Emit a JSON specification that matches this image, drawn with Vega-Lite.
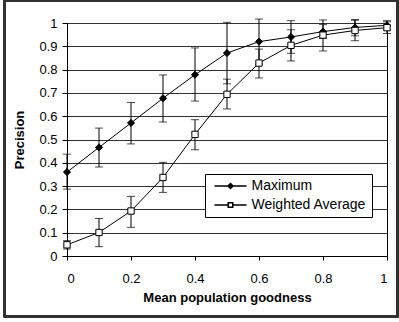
{
  "$schema": "https://vega.github.io/schema/vega-lite/v6.json",
  "width": 320,
  "height": 233,
  "autosize": {"type": "none"},
  "padding": {"left": 67, "top": 23, "right": 12, "bottom": 66},
  "background": "white",
  "config": {
    "font": "Liberation Sans",
    "view": {"stroke": "black", "strokeWidth": 1, "fill": "white"},
    "axis": {
      "labelFont": "Liberation Sans",
      "labelFontSize": 13,
      "labelColor": "black",
      "titleFont": "Liberation Sans",
      "titleFontSize": 13,
      "titleFontWeight": "bold",
      "titleColor": "black",
      "domainColor": "black",
      "tickColor": "black"
    }
  },
  "data": {
    "values": [
      {"series": "Maximum", "x": 0, "y": 0.36, "lo": 0.287, "hi": 0.437},
      {"series": "Maximum", "x": 0.1, "y": 0.466, "lo": 0.382, "hi": 0.549},
      {"series": "Maximum", "x": 0.2, "y": 0.571, "lo": 0.481, "hi": 0.659},
      {"series": "Maximum", "x": 0.3, "y": 0.677, "lo": 0.575, "hi": 0.777},
      {"series": "Maximum", "x": 0.4, "y": 0.778, "lo": 0.665, "hi": 0.893},
      {"series": "Maximum", "x": 0.5, "y": 0.871, "lo": 0.739, "hi": 1.003},
      {"series": "Maximum", "x": 0.6, "y": 0.92, "lo": 0.823, "hi": 1.017},
      {"series": "Maximum", "x": 0.7, "y": 0.94, "lo": 0.87, "hi": 1.01},
      {"series": "Maximum", "x": 0.8, "y": 0.963, "lo": 0.934, "hi": 0.993},
      {"series": "Maximum", "x": 0.9, "y": 0.981, "lo": 0.945, "hi": 1.015},
      {"series": "Maximum", "x": 1, "y": 0.99, "lo": 0.97, "hi": 1.01},
      {"series": "Weighted Average", "x": 0, "y": 0.048, "lo": 0.03, "hi": 0.066},
      {"series": "Weighted Average", "x": 0.1, "y": 0.101, "lo": 0.04, "hi": 0.161},
      {"series": "Weighted Average", "x": 0.2, "y": 0.193, "lo": 0.123, "hi": 0.256},
      {"series": "Weighted Average", "x": 0.3, "y": 0.337, "lo": 0.273, "hi": 0.402},
      {"series": "Weighted Average", "x": 0.4, "y": 0.522, "lo": 0.456, "hi": 0.585},
      {"series": "Weighted Average", "x": 0.5, "y": 0.694, "lo": 0.631, "hi": 0.759},
      {"series": "Weighted Average", "x": 0.6, "y": 0.828, "lo": 0.764, "hi": 0.888},
      {"series": "Weighted Average", "x": 0.7, "y": 0.904, "lo": 0.837, "hi": 0.971},
      {"series": "Weighted Average", "x": 0.8, "y": 0.948, "lo": 0.88, "hi": 1.013},
      {"series": "Weighted Average", "x": 0.9, "y": 0.968, "lo": 0.924, "hi": 1.012},
      {"series": "Weighted Average", "x": 1, "y": 0.98, "lo": 0.955, "hi": 1.005}
    ]
  },
  "resolve": {"scale": {"x": "independent", "y": "independent"}, "axis": {"x": "independent", "y": "independent"}},
  "layer": [
    {
      "mark": {"type": "rect", "fill": null, "stroke": "#333", "strokeWidth": 1.5, "clip": false},
      "encoding": {
        "x": {"datum": -0.195, "type": "quantitative", "scale": {"domain": [0, 1], "nice": false, "zero": false}, "axis": null},
        "x2": {"datum": 1.033},
        "y": {"datum": 1.094, "type": "quantitative", "scale": {"domain": [0, 1], "nice": false, "zero": false}, "axis": null},
        "y2": {"datum": -0.26}
      }
    },
    {
      "encoding": {
        "x": {
          "field": "x", "type": "quantitative",
          "scale": {"domain": [0, 1], "nice": false},
          "axis": {
            "values": [0, 0.2, 0.4, 0.6, 0.8, 1],
            "tickCount": 20,
            "format": ".1~f",
            "grid": false,
            "tickSize": 4,
            "labelPadding": 12,
            "title": "Mean population goodness",
            "titlePadding": 6
          }
        }
      },
      "layer": [
        {
          "mark": {"type": "rule", "color": "black", "strokeWidth": 1},
          "encoding": {
            "y": {
              "field": "lo", "type": "quantitative",
              "scale": {"domain": [0, 1], "nice": false},
              "axis": {
                "values": [0, 0.1, 0.2, 0.3, 0.4, 0.5, 0.6, 0.7, 0.8, 0.9, 1],
                "tickCount": 20,
                "format": ".1~f",
                "grid": true,
                "gridColor": "#333",
                "gridWidth": 1,
                "tickSize": 5,
                "labelPadding": 5,
                "labelOverlap": false,
                "title": "Precision",
                "titlePadding": 12
              }
            },
            "y2": {"field": "hi"}
          }
        },
        {
          "mark": {"type": "tick", "orient": "horizontal", "color": "black", "size": 8, "thickness": 1},
          "encoding": {
            "y": {"field": "lo", "type": "quantitative"}
          }
        },
        {
          "mark": {"type": "tick", "orient": "horizontal", "color": "black", "size": 8, "thickness": 1},
          "encoding": {
            "y": {"field": "hi", "type": "quantitative"}
          }
        },
        {
          "mark": {"type": "line", "color": "black", "strokeWidth": 1},
          "encoding": {
            "y": {"field": "y", "type": "quantitative"},
            "detail": {"field": "series"}
          }
        },
        {
          "transform": [{"filter": "datum.series === 'Maximum'"}],
          "mark": {"type": "point", "shape": "diamond", "filled": true, "fill": "black", "stroke": "black", "strokeWidth": 1, "opacity": 1, "size": 50},
          "encoding": {
            "y": {"field": "y", "type": "quantitative"}
          }
        },
        {
          "transform": [{"filter": "datum.series === 'Weighted Average'"}],
          "mark": {"type": "point", "shape": "square", "filled": true, "fill": "white", "stroke": "black", "strokeWidth": 1, "opacity": 1, "size": 40},
          "encoding": {
            "y": {"field": "y", "type": "quantitative"}
          }
        },
        {
          "mark": {"type": "point", "filled": true, "stroke": "black", "strokeWidth": 1, "opacity": 0, "size": 25},
          "encoding": {
            "y": {"field": "y", "type": "quantitative"},
            "shape": {
              "field": "series", "type": "nominal",
              "scale": {
                "domain": ["Maximum", "Weighted Average"],
                "range": ["M-6.4,0L6.4,0M0,-1L1,0L0,1L-1,0Z", "M-6.4,0L-0.9,0M0.9,0L6.4,0M-0.9,-0.9L0.9,-0.9L0.9,0.9L-0.9,0.9Z"]
              },
              "legend": {
                "title": null,
                "orient": "none",
                "legendX": 138,
                "legendY": 151,
                "padding": 5,
                "rowPadding": 5,
                "symbolSize": 25,
                "symbolOffset": 13.5,
                "labelOffset": 14,
                "symbolOpacity": 1,
                "labelFont": "Liberation Sans",
                "labelFontSize": 14,
                "labelColor": "black",
                "strokeColor": "black",
                "fillColor": "white"
              }
            },
            "fill": {
              "field": "series", "type": "nominal",
              "scale": {"domain": ["Maximum", "Weighted Average"], "range": ["black", "white"]}
            }
          }
        }
      ]
    }
  ]
}
